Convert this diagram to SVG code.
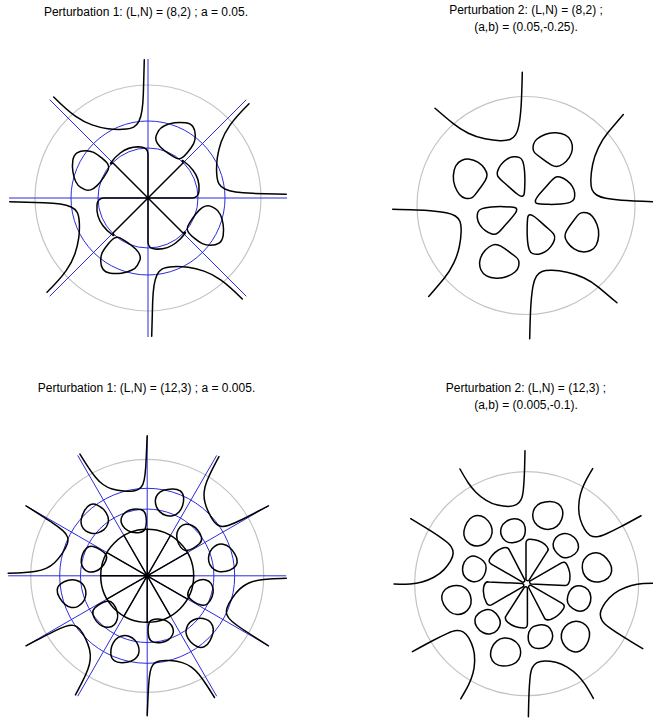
<svg xmlns="http://www.w3.org/2000/svg" width="653" height="720" viewBox="0 0 653 720">
<style>
.t{font-family:"Liberation Sans",Arial,sans-serif;font-size:12px;fill:#000;text-anchor:middle}
.g{fill:none;stroke:#c4c4c4;stroke-width:1.2}
.b{fill:none;stroke:#2b2bdc;stroke-width:1}
.k{fill:none;stroke:#000;stroke-width:1.5;stroke-linejoin:round;stroke-linecap:round}
</style>
<defs>
<path id="h1" d="M-94.3,-101 Q-81,-87.7 -72.65,-81.85 Q-64.3,-76 -56,-73.15 Q-47.7,-70.3 -40.2,-69.3 Q-32.7,-68.3 -25.2,-68.65 Q-17.7,-69 -14.35,-70.85 Q-11,-72.7 -9,-76.85 Q-7,-81 -6,-87.65 Q-5,-94.3 -4.65,-104.3 Q-4.3,-114.3 -3.7,-138.3"/>
<path id="l1" d="M8.15,-62.3 Q9,-64.3 10.65,-67.3 Q12.3,-70.3 16.5,-72.3 Q20.7,-74.3 26.5,-75.15 Q32.3,-76 37.65,-75.15 Q43,-74.3 45.15,-71 Q47.3,-67.7 47.3,-62.7 Q47.3,-57.7 45.65,-54.35 Q44,-51 39.85,-46 Q35.7,-41 33.2,-39.85 Q30.7,-38.7 28.2,-39.85 Q25.7,-41 20.7,-44.35 Q15.7,-47.7 12.35,-51 Q9,-54.3 8.15,-57.3 Q7.3,-60.3 8.15,-62.3 Z"/>
<path id="q1" d="M0,0 L0,-44.5 Q-0.5,-50.5 -7,-51 Q-18.7,-52 -27.7,-45 Q-33,-41 -37,-35.5 Q-38.5,-33 -35,-35 Z"/>
<path id="h2" d="M-91,-97.3 Q-79.3,-87.3 -72.65,-81.8 Q-66,-76.3 -57.65,-72.3 Q-49.3,-68.3 -41,-66.65 Q-32.7,-65 -26,-64.85 Q-19.3,-64.7 -16,-66 Q-12.7,-67.3 -10.5,-70.65 Q-8.3,-74 -7.15,-79.85 Q-6,-85.7 -5.15,-95.7 Q-4.3,-105.7 -3.7,-133.3"/>
<path id="l2" d="M7.35,-55.15 Q6.7,-57.3 7.35,-60.65 Q8,-64 11,-66.5 Q14,-69 19,-71 Q24,-73 29.85,-72.65 Q35.7,-72.3 39.5,-70.3 Q43.3,-68.3 45,-64.5 Q46.7,-60.7 46.35,-56.5 Q46,-52.3 43.35,-48.15 Q40.7,-44 37,-41.5 Q33.3,-39 30.65,-39 Q28,-39 25.15,-40.65 Q22.3,-42.3 17.8,-45.65 Q13.3,-49 10.65,-51 Q8,-53 7.35,-55.15 Z"/>
<path id="q2" d="M-27.65,-28.5 Q-29.3,-30.7 -28.5,-34 Q-27.7,-37.3 -25.2,-40.65 Q-22.7,-44 -19.35,-46.15 Q-16,-48.3 -12.65,-48.65 Q-9.3,-49 -6.8,-48.15 Q-4.3,-47.3 -3.15,-44 Q-2,-40.7 -1.5,-34.85 Q-1,-29 -1.15,-22.35 Q-1.3,-15.7 -1.65,-12.7 Q-2,-9.7 -3.65,-9.35 Q-5.3,-9 -8.15,-11 Q-11,-13 -15.15,-16.85 Q-19.3,-20.7 -22.65,-23.5 Q-26,-26.3 -27.65,-28.5 Z"/>
<path id="h3" d="M-67.3,-121.7 Q-61.7,-112.7 -58.35,-107.7 Q-55,-102.7 -51.65,-98.5 Q-48.3,-94.3 -44.15,-91.3 Q-40,-88.3 -35,-86.8 Q-30,-85.3 -23.35,-84.8 Q-16.7,-84.3 -12.5,-85.15 Q-8.3,-86 -6.15,-88.5 Q-4,-91 -3,-96 Q-2,-101 -1.5,-108.5 Q-1,-116 0,-140"/>
<path id="o3" d="M8.15,-75.7 Q8.3,-78.7 10.5,-81.5 Q12.7,-84.3 16.35,-85.5 Q20,-86.7 25,-86.85 Q30,-87 33,-84.85 Q36,-82.7 36.35,-78.5 Q36.7,-74.3 35.5,-70.5 Q34.3,-66.7 31.8,-63.85 Q29.3,-61 25.5,-60.15 Q21.7,-59.3 18.35,-60.5 Q15,-61.7 12.5,-64.2 Q10,-66.7 9,-69.7 Q8,-72.7 8.15,-75.7 Z"/>
<path id="i3" d="M-25.85,-53 Q-26.7,-56 -25.35,-59 Q-24,-62 -21.15,-64 Q-18.3,-66 -14.15,-66.65 Q-10,-67.3 -6.35,-66.3 Q-2.7,-65.3 -1.7,-61.5 Q-0.7,-57.7 -0.85,-53.5 Q-1,-49.3 -2.15,-46.65 Q-3.3,-44 -7.5,-43.35 Q-11.7,-42.7 -15.85,-43.85 Q-20,-45 -22.5,-47.5 Q-25,-50 -25.85,-53 Z"/>
<path id="h4" d="M-66.7,-114.7 Q-61.7,-105.7 -58.35,-100.7 Q-55,-95.7 -50.85,-91.5 Q-46.7,-87.3 -40.85,-83.65 Q-35,-80 -29.15,-78.65 Q-23.3,-77.3 -18.3,-77.3 Q-13.3,-77.3 -10.3,-79 Q-7.3,-80.7 -5.65,-84 Q-4,-87.3 -3.35,-94 Q-2.7,-100.7 -2.35,-109 Q-2,-117.3 -1.7,-133"/>
<path id="o4" d="M6,-68.5 Q6,-72.3 8,-75.65 Q10,-79 14.15,-80.65 Q18.3,-82.3 23.3,-82.3 Q28.3,-82.3 31.65,-79.8 Q35,-77.3 35.85,-73.15 Q36.7,-69 35,-64.5 Q33.3,-60 30,-57.35 Q26.7,-54.7 22.5,-54.35 Q18.3,-54 14.15,-56 Q10,-58 8,-61.35 Q6,-64.7 6,-68.5 Z"/>
<path id="m4" d="M-25.35,-48.5 Q-26.7,-52.3 -25.35,-56.15 Q-24,-60 -20.35,-62.35 Q-16.7,-64.7 -12.5,-64.85 Q-8.3,-65 -5.3,-62.85 Q-2.3,-60.7 -1.65,-56.5 Q-1,-52.3 -2.15,-48.5 Q-3.3,-44.7 -6.65,-43 Q-10,-41.3 -14.15,-41 Q-18.3,-40.7 -21.15,-42.7 Q-24,-44.7 -25.35,-48.5 Z"/>
<path id="w4" d="M-0.7,-4 L-0.7,-40.5 Q-0.7,-44.5 3.5,-44.4 Q12.5,-44 18.5,-39 Q23,-35 20.5,-32 L2.5,-3.8 Q1,-2.2 -0.7,-4 Z"/>
</defs>
<rect width="653" height="720" fill="#fff"/>

<g id="titles">
<text class="t" x="146" y="15.5">Perturbation 1: (L,N) = (8,2) ; a = 0.05.</text>
<text class="t" x="526" y="14">Perturbation 2: (L,N) = (8,2) ;</text>
<text class="t" x="526" y="30.7">(a,b) = (0.05,-0.25).</text>
<text class="t" x="146.5" y="392">Perturbation 1: (L,N) = (12,3) ; a = 0.005.</text>
<text class="t" x="526" y="392">Perturbation 2: (L,N) = (12,3) ;</text>
<text class="t" x="526" y="408.5">(a,b) = (0.005,-0.1).</text>
</g>

<g id="panel1" transform="translate(148,198)">
<circle class="g" r="113"/>
<g class="b"><circle r="50"/><circle r="77"/><path d="M-139,0H139M0,-139V139M-98.3,-98.3L98.3,98.3M-98.3,98.3L98.3,-98.3"/></g>
<g class="k">
<use href="#h1"/><use href="#h1" transform="rotate(90)"/><use href="#h1" transform="rotate(180)"/><use href="#h1" transform="rotate(270)"/>
<use href="#l1"/><use href="#l1" transform="rotate(90)"/><use href="#l1" transform="rotate(180)"/><use href="#l1" transform="rotate(270)"/>
<use href="#q1"/><use href="#q1" transform="rotate(90)"/><use href="#q1" transform="rotate(180)"/><use href="#q1" transform="rotate(270)"/>
</g>
</g>

<g id="panel2" transform="translate(526,205.5)">
<circle class="g" r="109"/>
<g class="k">
<use href="#h2"/><use href="#h2" transform="rotate(90)"/><use href="#h2" transform="rotate(180)"/><use href="#h2" transform="rotate(270)"/>
<use href="#l2"/><use href="#l2" transform="rotate(90)"/><use href="#l2" transform="rotate(180)"/><use href="#l2" transform="rotate(270)"/>
<use href="#q2"/><use href="#q2" transform="rotate(90)"/><use href="#q2" transform="rotate(180)"/><use href="#q2" transform="rotate(270)"/>
</g>
</g>

<g id="panel3" transform="translate(147.2,575.8)">
<circle class="g" r="116.5"/>
<g class="b"><circle r="66.7"/><circle r="87.5"/><path d="M-139,0H139M0,-139V139M-120.4,-69.5L120.4,69.5M-120.4,69.5L120.4,-69.5M-69.5,-120.4L69.5,120.4M-69.5,120.4L69.5,-120.4"/></g>
<g class="k">
<circle r="46.5"/>
<path d="M-46.5,0H46.5M0,-46.5V46.5M-40.3,-23.25L40.3,23.25M-40.3,23.25L40.3,-23.25M-23.25,-40.3L23.25,40.3M-23.25,40.3L23.25,-40.3"/>
<use href="#h3"/><use href="#h3" transform="rotate(60)"/><use href="#h3" transform="rotate(120)"/><use href="#h3" transform="rotate(180)"/><use href="#h3" transform="rotate(240)"/><use href="#h3" transform="rotate(300)"/>
<use href="#o3"/><use href="#o3" transform="rotate(60)"/><use href="#o3" transform="rotate(120)"/><use href="#o3" transform="rotate(180)"/><use href="#o3" transform="rotate(240)"/><use href="#o3" transform="rotate(300)"/>
<use href="#i3"/><use href="#i3" transform="rotate(60)"/><use href="#i3" transform="rotate(120)"/><use href="#i3" transform="rotate(180)"/><use href="#i3" transform="rotate(240)"/><use href="#i3" transform="rotate(300)"/>
</g>
<circle r="2" fill="#000"/>
</g>

<g id="panel4" transform="translate(526.7,583.7)">
<circle class="g" r="112"/>
<g class="k">
<use href="#h4"/><use href="#h4" transform="rotate(60)"/><use href="#h4" transform="rotate(120)"/><use href="#h4" transform="rotate(180)"/><use href="#h4" transform="rotate(240)"/><use href="#h4" transform="rotate(300)"/>
<use href="#o4"/><use href="#o4" transform="rotate(60)"/><use href="#o4" transform="rotate(120)"/><use href="#o4" transform="rotate(180)"/><use href="#o4" transform="rotate(240)"/><use href="#o4" transform="rotate(300)"/>
<use href="#m4"/><use href="#m4" transform="rotate(60)"/><use href="#m4" transform="rotate(120)"/><use href="#m4" transform="rotate(180)"/><use href="#m4" transform="rotate(240)"/><use href="#m4" transform="rotate(300)"/>
<use href="#w4"/><use href="#w4" transform="rotate(60)"/><use href="#w4" transform="rotate(120)"/><use href="#w4" transform="rotate(180)"/><use href="#w4" transform="rotate(240)"/><use href="#w4" transform="rotate(300)"/>
</g>
</g>
</svg>
